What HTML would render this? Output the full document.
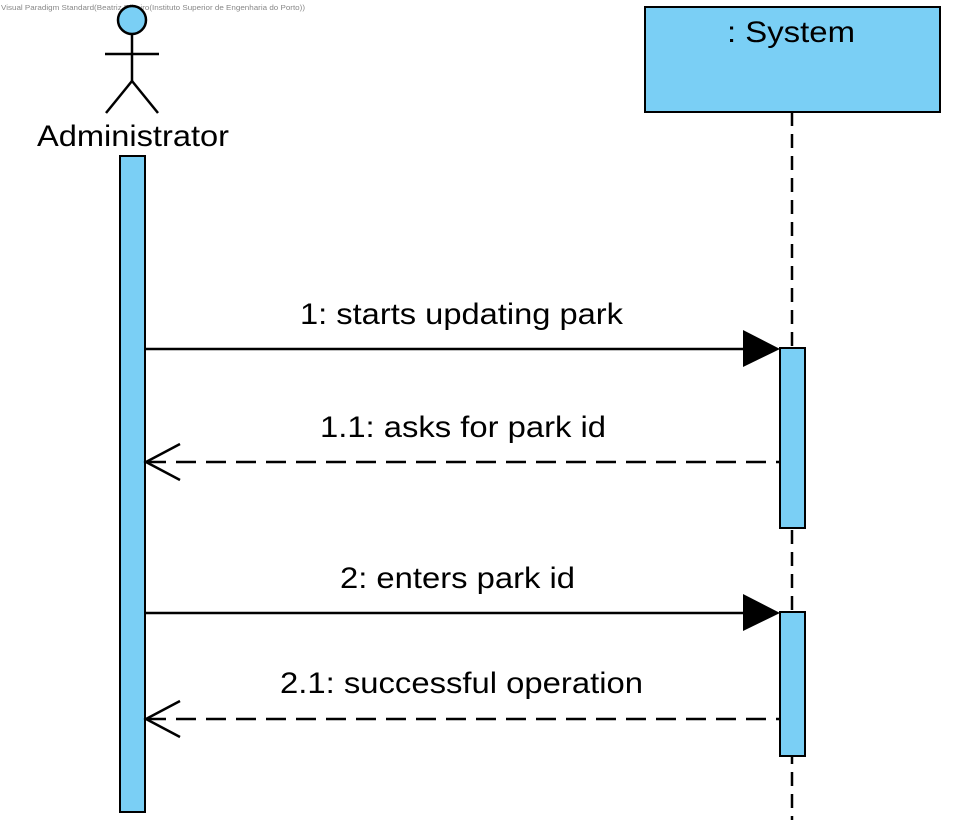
<!DOCTYPE html>
<html><head><style>body{margin:0;background:#fff}</style></head><body>
<svg width="954" height="828" xmlns="http://www.w3.org/2000/svg" font-family="Liberation Sans, Arial, sans-serif">
<rect width="954" height="828" fill="#fff"/>
<text x="1" y="10" font-size="7.5" fill="#888" textLength="304" lengthAdjust="spacingAndGlyphs">Visual Paradigm Standard(Beatriz Ribeiro(Instituto Superior de Engenharia do Porto))</text>
<g stroke="#000" stroke-width="2.5" fill="none">
<circle cx="132" cy="20" r="14" fill="#7ACFF5"/>
<line x1="132" y1="34" x2="132" y2="81"/>
<line x1="105" y1="54" x2="159" y2="54"/>
<line x1="132" y1="81" x2="106" y2="113"/>
<line x1="132" y1="81" x2="158" y2="113"/>
</g>
<g font-size="30">
<text x="37" y="146" textLength="192" lengthAdjust="spacingAndGlyphs">Administrator</text>
</g>
<rect x="120" y="156" width="25" height="656" fill="#7ACFF5" stroke="#000" stroke-width="2"/>
<rect x="645" y="7" width="295" height="105" fill="#7ACFF5" stroke="#000" stroke-width="2"/>
<line x1="792" y1="112" x2="792" y2="820" stroke="#000" stroke-width="2.5" stroke-dasharray="14,8"/>
<rect x="780" y="348" width="25" height="180" fill="#7ACFF5" stroke="#000" stroke-width="2"/>
<rect x="780" y="612" width="25" height="144" fill="#7ACFF5" stroke="#000" stroke-width="2"/>
<g stroke="#000" stroke-width="2.5" fill="none">
<line x1="146" y1="349" x2="745" y2="349"/>
<line x1="146" y1="613" x2="745" y2="613"/>
<line x1="146" y1="462" x2="779" y2="462" stroke-dasharray="20,10"/>
<line x1="146" y1="719" x2="779" y2="719" stroke-dasharray="20,10"/>
<polyline points="180,444 146,462 180,480"/>
<polyline points="180,701 146,719 180,737"/>
</g>
<polygon points="743,330 780,349 743,367" fill="#000"/>
<polygon points="743,594 780,613 743,631" fill="#000"/>
<g font-size="30" lengthAdjust="spacingAndGlyphs">
<text x="727" y="42" textLength="128" lengthAdjust="spacingAndGlyphs">: System</text>
<text x="300" y="324" textLength="323" lengthAdjust="spacingAndGlyphs">1: starts updating park</text>
<text x="320" y="437" textLength="286" lengthAdjust="spacingAndGlyphs">1.1: asks for park id</text>
<text x="340" y="588" textLength="235" lengthAdjust="spacingAndGlyphs">2: enters park id</text>
<text x="280" y="693" textLength="363" lengthAdjust="spacingAndGlyphs">2.1: successful operation</text>
</g>
</svg>
</body></html>
